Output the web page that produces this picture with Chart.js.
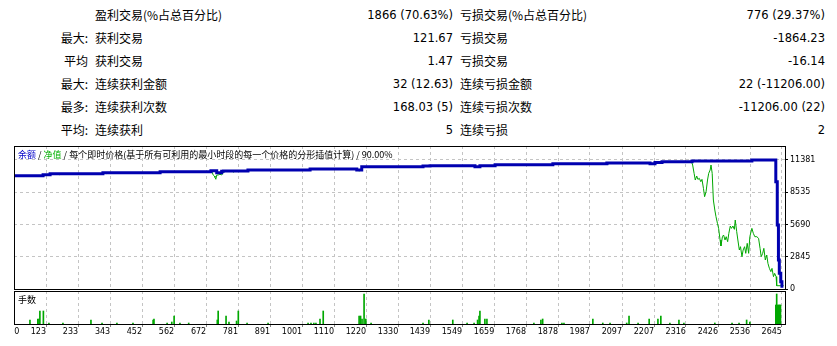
<!DOCTYPE html>
<html>
<head>
<meta charset="utf-8">
<script src="https://cdn.jsdelivr.net/npm/chart.js@4.4.0/dist/chart.umd.min.js"></script>
<style>
  html, body { margin: 0; padding: 0; background: #fff; }
  body { width: 837px; height: 346px; position: relative; overflow: hidden; }
  .cell { position: absolute; height: 16px; line-height: 16px; color: #000; white-space: nowrap; }
  .cjk { font-family: "Noto Sans CJK SC", sans-serif; font-size: 12px; }
  .num { font-family: "DejaVu Sans", sans-serif; font-size: 11.5px; text-align: right; }
  .pre { font-family: "Noto Sans CJK SC", sans-serif; font-size: 12px; text-align: right; }
  canvas { position: absolute; left: 0; }
  .small { position: absolute; font-family: "Noto Sans CJK SC", sans-serif; font-size: 9px; line-height: 12px; color: #000; white-space: nowrap; z-index: 2; }
</style>
</head>
<body>
<div id="stats"></div>
<canvas id="mainChart" width="837" height="156" style="top:140px"></canvas>
<canvas id="lotChart" width="837" height="60" style="top:286px"></canvas>
<div class="small" style="left:18px; top:149px"><span style="color:#0000c8">余额</span> / <span style="color:#00b000">净值</span> / 每个即时价格(基于所有可利用的最小时段的每一个价格的分形插值计算) / 90.00%</div>
<div class="small" style="left:18px; top:294px">手数</div>
<script>
// Tabla de estadísticas
const statPrefix = ['', '最大:', '平均', '最大:', '最多:', '平均:'];
const statWinLabel = ['盈利交易(%占总百分比)', '获利交易', '获利交易', '连续获利金额', '连续获利次数', '连续获利'];
const statWinValue = ['1866 (70.63%)', '121.67', '1.47', '32 (12.63)', '168.03 (5)', '5'];
const statLossLabel = ['亏损交易(%占总百分比)', '亏损交易', '亏损交易', '连续亏损金额', '连续亏损次数', '连续亏损'];
const statLossValue = ['776 (29.37%)', '-1864.23', '-16.14', '22 (-11206.00)', '-11206.00 (22)', '2'];

// Ejes
const xTickLabels = [0, 123, 233, 343, 452, 562, 672, 781, 891, 1001, 1110, 1220, 1330, 1439, 1549, 1659, 1768, 1878, 1987, 2097, 2207, 2316, 2426, 2536, 2645];
const yTickValues = [0, 2845, 5690, 8535, 11381];

// Balance (余额), escalonado
const balanceX = [13, 113, 137, 318, 514, 688, 708, 725, 731, 815, 1028, 1188, 1205, 1415, 1439, 1593, 1610, 1662, 1860, 2045, 2193, 2210, 2234, 2337, 2542, 2624, 2629, 2633, 2636, 2641, 2645, 2650];
const balanceY = [10000, 10090, 10170, 10260, 10340, 10430, 10260, 10380, 10410, 10500, 10580, 10500, 10790, 10850, 10880, 10790, 10880, 10960, 11050, 11110, 11060, 11170, 11230, 11290, 11381, 9460, 5650, 2560, 1380, 650, 250, 250];

// Equidad (净值)
const equityX = [13, 112, 113, 136, 137, 166, 168, 170, 317, 318, 327, 329, 331, 513, 514, 539, 541, 543, 687, 688, 691, 696, 700, 702, 705, 708, 713, 719, 725, 730, 731, 762, 764, 766, 814, 815, 1027, 1028, 1038, 1040, 1042, 1053, 1055, 1057, 1187, 1188, 1199, 1203, 1205, 1414, 1415, 1438, 1439, 1592, 1593, 1609, 1610, 1661, 1662, 1859, 1860, 1862, 1864, 2044, 2045, 2049, 2052, 2098, 2100, 2102, 2192, 2193, 2209, 2210, 2217, 2219, 2233, 2234, 2332,
  2334, 2339, 2344, 2348, 2353, 2357, 2362, 2367, 2371, 2376, 2380, 2385, 2390, 2394, 2399, 2402, 2406, 2410, 2415, 2419, 2424, 2428, 2433, 2436, 2441, 2445, 2450, 2454, 2459, 2463, 2468, 2472, 2477, 2482, 2485, 2490, 2494, 2499, 2503, 2508, 2512, 2517, 2521, 2526, 2531, 2535, 2542, 2547, 2552, 2559, 2565, 2570, 2574, 2579, 2583, 2588, 2593, 2597, 2602, 2607, 2611, 2616, 2620, 2625, 2627, 2641, 2645, 2650];
const equityY = [10000, 10000, 10090, 10090, 10170, 10170, 10080, 10170, 10170, 10260, 10260, 10180, 10260, 10260, 10340, 10340, 10260, 10340, 10340, 10430, 10400, 10050, 9970, 9850, 9680, 10050, 10060, 10120, 10060, 10260, 10410, 10410, 10310, 10410, 10410, 10500, 10500, 10580, 10580, 10500, 10580, 10580, 10500, 10580, 10580, 10470, 10420, 10500, 10790, 10790, 10850, 10850, 10880, 10880, 10790, 10790, 10880, 10880, 10960, 10960, 11050, 10990, 11050, 11050, 11110, 11040, 11110, 11110, 11040, 11110, 11110, 11060, 11060, 11170, 11090, 11170, 11170, 11230, 11230,
  11316, 10937, 10205, 9614, 9967, 9673, 9761, 9467, 9673, 8879, 8144, 8585, 9614, 10205, 10496, 10937, 10205, 7850, 6968, 6380, 5792, 5351, 4322, 3793, 4616, 4763, 4322, 4616, 4175, 4910, 5557, 5351, 5557, 5263, 6086, 5057, 4322, 3440, 3734, 2852, 3440, 3734, 3146, 4028, 3146, 4616, 5351, 4910, 4616, 4616, 4469, 3587, 2852, 3146, 3587, 2558, 2999, 2264, 1823, 1529, 1823, 1088, 1382, 1088, 290, 290, 500, 250];

// Lotes (手数)
const lotX = [68, 95, 99, 102, 114, 133, 181, 277, 315, 366, 421, 490, 493, 538, 554, 562, 582, 612, 710, 713, 740, 750, 776, 782, 812, 884, 1021, 1031, 1041, 1048, 1062, 1073, 1196, 1201, 1206, 1213, 1219, 1237, 1415, 1435, 1517, 1566, 1590, 1602, 1607, 1610, 1627, 1634, 1795, 1819, 1825, 1891, 1898, 1997, 2031, 2056, 2113, 2121, 2152, 2190, 2220, 2230, 2261, 2292, 2309, 2415, 2474, 2498, 2524, 2535, 2624, 2627, 2630, 2634, 2637, 2640];
const lotY = [0.4, 0.5, 0.5, 1.3, 1.3, 0.1, 0.1, 0.4, 0.1, 0.1, 0.1, 0.4, 0.5, 0.1, 0.2, 0.8, 0.1, 0.1, 0.4, 1.3, 0.8, 0.2, 0.3, 1.3, 0.1, 0.1, 0.1, 0.1, 0.1, 0.1, 0.5, 1.3, 0.8, 0.8, 0.5, 3.0, 0.5, 0.1, 0.1, 0.4, 0.4, 0.1, 0.1, 0.4, 0.8, 1.3, 0.5, 0.5, 0.1, 0.4, 0.5, 0.1, 0.1, 0.5, 0.1, 0.1, 0.1, 0.8, 0.1, 0.5, 0.5, 0.8, 0.1, 0.4, 0.1, 0.1, 0.1, 0.1, 0.4, 0.2, 1.9, 3.0, 1.9, 1.9, 1.9, 1.9];

const X_MIN = 13.3;
const X_MAX = 2655.5;
const X_ZERO_AT = 32;      // MT4 escribe el "0" pegado al borde izquierdo
const Y_MAX = 12616;
const LOT_MAX = 3.3;

// Tabla
const stats = document.getElementById('stats');
let html = '';
statPrefix.forEach((p, i) => {
    const top = 7 + i * 23;
    html += `<div class="cell pre" style="top:${top}px; right:749px">${p}</div>`;
    html += `<div class="cell cjk" style="top:${top}px; left:95px">${statWinLabel[i]}</div>`;
    html += `<div class="cell num" style="top:${top}px; right:384px">${statWinValue[i]}</div>`;
    html += `<div class="cell cjk" style="top:${top}px; left:460px">${statLossLabel[i]}</div>`;
    html += `<div class="cell num" style="top:${top}px; right:12px">${statLossValue[i]}</div>`;
});
stats.innerHTML = html;

const tickFont = { family: 'DejaVu Sans', size: 8 };

// Marco negro alrededor del área del gráfico
const framePlugin = {
    id: 'frame',
    afterDraw(chart) {
        const { ctx, chartArea: a } = chart;
        ctx.save();
        ctx.strokeStyle = '#000';
        ctx.lineWidth = 1;
        ctx.strokeRect(a.left + 0.5, a.top + 0.5, a.right - a.left, a.bottom - a.top);
        ctx.restore();
    }
};

function xScale(showLabels, axisHeight) {
    return {
        type: 'linear',
        min: X_MIN,
        max: X_MAX,
        offset: false,
        afterBuildTicks: s => { s.ticks = xTickLabels.map(v => ({ value: v === 0 ? X_ZERO_AT : v })); },
        afterFit: s => { s.height = axisHeight; s.paddingLeft = 0; s.paddingRight = 0; },
        grid: {
            offset: false,
            color: c => c.index === 0 ? 'transparent' : '#c4c4c4',
            tickColor: c => c.index === 0 ? 'transparent' : '#808080',
            drawTicks: showLabels,
            tickLength: 3
        },
        border: { display: false, dash: [3, 3] },
        ticks: {
            display: showLabels,
            autoSkip: false,
            maxRotation: 0,
            align: 'end',
            padding: 0,
            color: '#000',
            font: tickFont,
            callback: (v, i) => String(xTickLabels[i])
        }
    };
}

const pts = (xs, ys) => xs.map((x, i) => ({ x: x, y: ys[i] }));

new Chart(document.getElementById('mainChart'), {
    type: 'line',
    data: {
        datasets: [
            {
                label: '余额',
                data: pts(balanceX, balanceY),
                borderColor: '#0000b0',
                borderWidth: 3,
                stepped: true,
                pointRadius: 0
            },
            {
                label: '净值',
                data: pts(equityX, equityY),
                borderColor: '#00a800',
                borderWidth: 1,
                pointRadius: 0
            }
        ]
    },
    options: {
        responsive: false,
        animation: false,
        devicePixelRatio: 1,
        events: [],
        layout: { padding: { left: 14, top: 6, right: 0, bottom: 7 } },
        plugins: { legend: { display: false }, tooltip: { enabled: false } },
        scales: {
            x: xScale(false, 0),
            y: {
                position: 'right',
                min: 0,
                max: Y_MAX,
                afterBuildTicks: s => { s.ticks = yTickValues.map(v => ({ value: v })); },
                afterFit: s => { s.width = 52; s.paddingTop = 0; s.paddingBottom = 0; },
                grid: { color: '#c4c4c4', tickColor: '#000', tickLength: 3 },
                border: { display: false, dash: [3, 3] },
                ticks: { color: '#000', padding: 2, font: tickFont, callback: v => String(v) }
            }
        }
    },
    plugins: [framePlugin]
});

new Chart(document.getElementById('lotChart'), {
    type: 'bar',
    data: {
        datasets: [{
            label: '手数',
            data: pts(lotX, lotY),
            backgroundColor: '#00a800',
            barThickness: 1
        }]
    },
    options: {
        responsive: false,
        animation: false,
        devicePixelRatio: 1,
        events: [],
        layout: { padding: { left: 14, top: 5, right: 0, bottom: 0 } },
        plugins: { legend: { display: false }, tooltip: { enabled: false } },
        scales: {
            x: xScale(true, 22),
            y: {
                position: 'right',
                min: 0,
                max: LOT_MAX,
                afterFit: s => { s.width = 52; s.paddingTop = 0; s.paddingBottom = 0; },
                grid: { display: false },
                border: { display: false },
                ticks: { display: false }
            }
        }
    },
    plugins: [framePlugin]
});
</script>
</body>
</html>
